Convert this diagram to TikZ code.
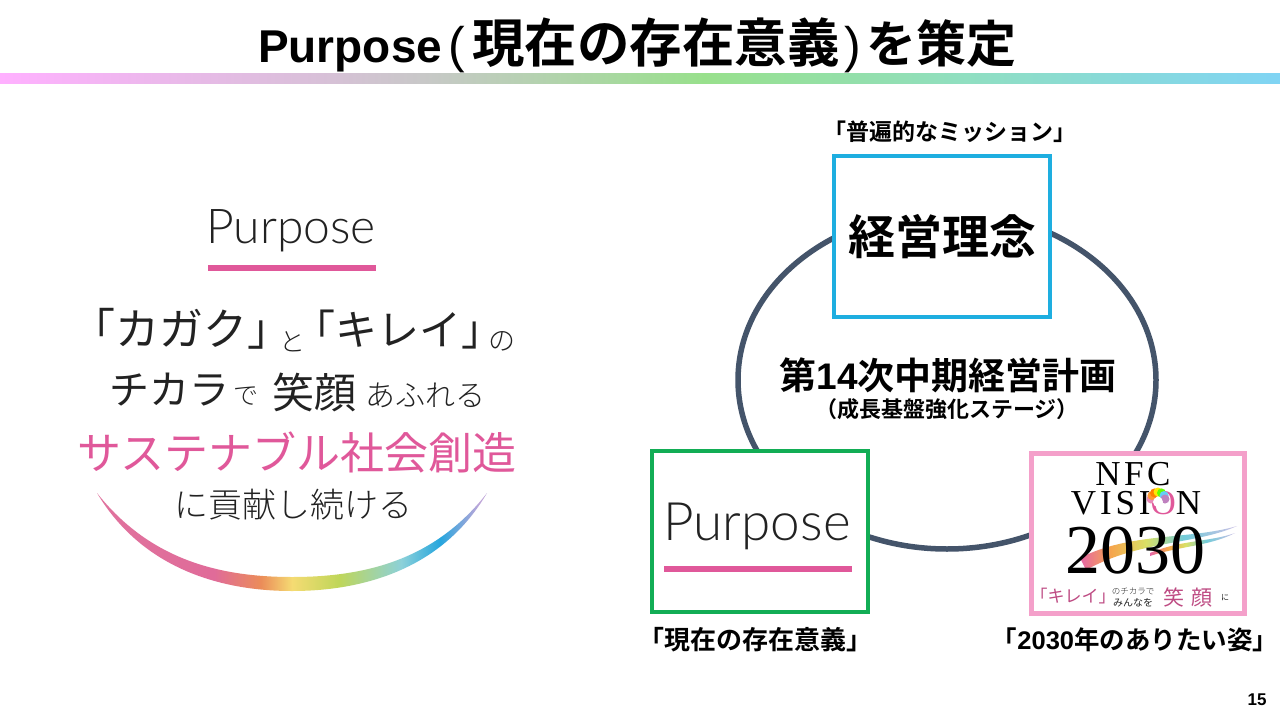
\documentclass[tikz,border=0pt]{standalone}
\usepackage{fontspec}
\setmainfont{Noto Sans CJK JP}
\newfontfamily\jpb{Noto Sans CJK JP Bold}
\newfontfamily\jpl{Noto Sans CJK JP Light}
\newfontfamily\lat{Liberation Sans}[BoldFont={Liberation Sans Bold}]
\newfontfamily\thin{Lato Light}
\newfontfamily\ser{Liberation Serif}
\definecolor{ink}{HTML}{222222}
\definecolor{rosy}{HTML}{E0589A}
\definecolor{ringc}{HTML}{44546A}
\definecolor{cyanb}{HTML}{1EAEE0}
\definecolor{greenb}{HTML}{12AD55}
\definecolor{pinkb}{HTML}{F4A0CA}
\definecolor{ba}{HTML}{FFB0FF}
\definecolor{bb}{HTML}{D8C0D8}
\definecolor{bc}{HTML}{C8C8C8}
\definecolor{bd}{HTML}{98E08C}
\definecolor{be}{HTML}{90DFC0}
\definecolor{bf}{HTML}{80D4F4}
\definecolor{sa}{HTML}{E0739E}
\definecolor{sb}{HTML}{E06B99}
\definecolor{sc}{HTML}{EB8C59}
\definecolor{sd}{HTML}{F5DB73}
\definecolor{se}{HTML}{BFD659}
\definecolor{sf}{HTML}{8CD1D9}
\definecolor{sg}{HTML}{26A6DE}
\definecolor{sh}{HTML}{BFA6D9}
\definecolor{ta}{HTML}{E666A6}
\definecolor{tb}{HTML}{F5A64D}
\definecolor{tc}{HTML}{D9E066}
\definecolor{td}{HTML}{73CCD9}
\definecolor{te}{HTML}{CCBFE6}
\pgfdeclarehorizontalshading{barshade}{100bp}{color(0bp)=(ba); color(25bp)=(ba); color(37.5bp)=(bb); color(41.5bp)=(bc); color(52.5bp)=(bd); color(62.5bp)=(be); color(75bp)=(bf); color(100bp)=(bf)}
\pgfdeclarehorizontalshading{smile}{100bp}{color(0bp)=(sa); color(25bp)=(sa); color(40bp)=(sb); color(46bp)=(sc); color(50bp)=(sd); color(56bp)=(se); color(64bp)=(sf); color(69bp)=(sg); color(74bp)=(sh); color(100bp)=(sh)}
\pgfdeclarehorizontalshading{streak}{100bp}{color(0bp)=(ta); color(25bp)=(ta); color(35bp)=(tb); color(46bp)=(tc); color(58bp)=(td); color(75bp)=(te); color(100bp)=(te)}
\tikzset{
 txt/.style={inner sep=0pt,text=black},
 soft/.style={inner sep=0pt,text=ink},
 boxframe/.style={draw,fill=white,line width=4pt,minimum width=216pt,minimum height=161pt,inner sep=0pt},
}
\newcommand{\sz}[1]{\fontsize{#1}{#1}\selectfont}
\begin{document}
\begin{tikzpicture}[x=1pt,y=-1pt]
\useasboundingbox (0,0) rectangle (1280,720);
\fill[white] (0,0) rectangle (1280,720);
% title and bar
\node[txt,anchor=base west] (title) at (258,62) {\jpb{\lat\bfseries\sz{46}Purpose}\makebox[30pt]{\lat\sz{50}(}{\sz{52.5}現在の存在意義}\makebox[27pt]{\lat\sz{50})}{\sz{50}を策定}};
\shade[shading=barshade] (0,73) rectangle (1280,83);
% left block
\node[soft,anchor=base] (pword) at (291,243) {\thin\sz{48}Purpose};
\fill[rosy] (208,265) rectangle (376,271);
\node[soft,anchor=base west] (line1) at (71,345) {\sz{44}「カガク」\kern-12pt\raisebox{-6pt}{\jpl\sz{26}と}\kern-12pt\sz{42}「キレイ」\kern-14.5pt\raisebox{-5pt}{\jpl\sz{27}の}};
\node[soft] (chi) at (169,390) {\sz{40}チカラ};
\node[soft] (de) at (246,396) {\jpl\sz{25}で};
\node[soft] (smile) at (314,392) {\sz{42}笑顔};
\node[soft] (afu) at (425,395) {\jpl\sz{30}あふれる};
\node[inner sep=0pt,text=rosy] (sus) at (297,452) {\sz{44}サステナブル社会創造};
\node[soft] (kou) at (293,505) {\jpl\sz{34}に貢献し続ける};
\shade[shading=smile] (97,493) .. controls (150,560) and (220,577) .. (292,577) .. controls (365,577) and (435,560) .. (487,493) .. controls (445,565) and (370,591) .. (292,591) .. controls (215,591) and (140,565) .. (97,493) -- cycle;
% ring
\draw[ringc,line width=5.5pt] (947,380) ellipse [x radius=209,y radius=169];
% boxes
\node[boxframe,draw=cyanb] (mission) at (942,236.5) {\raisebox{-3pt}{\jpb\sz{47}経営理念}};
\node[boxframe,draw=greenb] (purpose) at (759.5,531.5) {};
\node[soft,anchor=base] (ptxt) at (757,540) {\thin\sz{53}Purpose};
\fill[rosy] (664,566) rectangle (852,572);
\node[boxframe,draw=pinkb,line width=5pt,minimum width=213pt,minimum height=160pt] (vision) at (1138,533) {};
% logo
\node[txt] (nfc) at (1133,474) {\ser\sz{35}\addfontfeatures{LetterSpace=10}NFC};
\node[txt] (vis) at (1136,503) {\ser\sz{35}\addfontfeatures{LetterSpace=11}VISI{\color{rosy}O}N};
\foreach \a/\c in {180/rosy!70!white,210/orange!80!white,240/orange,270/yellow!90!orange,300/green!60!yellow,330/cyan!60!white,360/violet!50!white}{
 \fill[\c] (1158,499) ++(\a:7) circle (4.5pt);}
\fill[white] (1158,502) circle (5pt);
\shade[shading=streak] (1080,558) .. controls (1130,532) and (1190,540) .. (1237,526) .. controls (1195,545) and (1140,540) .. (1086,570) -- cycle;
\shade[shading=streak] (1150,553) .. controls (1180,540) and (1210,542) .. (1235,533) .. controls (1210,546) and (1180,546) .. (1150,556) -- cycle;
\node[txt] (yr) at (1135,551) {\ser\sz{70}2030};
\node[inner sep=0pt,text=rosy!85!black] (kirei) at (1073,596) {\sz{17}「キレイ」};
\node[soft,align=center] (nochi) at (1133,597) {\jpl\fontsize{8.5}{11}\selectfont のチカラで\\みんなを};
\node[inner sep=0pt,text=rosy!85!black] (egao) at (1188,597) {\sz{21}笑\hspace{7pt}顔};
\node[soft] (ni) at (1225,598) {\sz{8}に};
% centre and captions
\node[txt] (plan) at (948,375) {\jpb\sz{37}第{\lat\bfseries 14}次中期経営計画};
\node[txt] (stage) at (947,409) {\jpb\sz{22}（成長基盤強化ステージ）};
\node[txt] (capm) at (950,132) {\jpb\sz{23}「普遍的なミッション」};
\node[txt] (capp) at (755,640) {\jpb\sz{26}「現在の存在意義」};
\node[txt] (capv) at (1135,640) {\jpb\sz{25.5}「{\lat\bfseries 2030}年のありたい姿」};
\node[txt] (pg) at (1257,700) {\lat\bfseries\sz{17}15};
\end{tikzpicture}
\end{document}
